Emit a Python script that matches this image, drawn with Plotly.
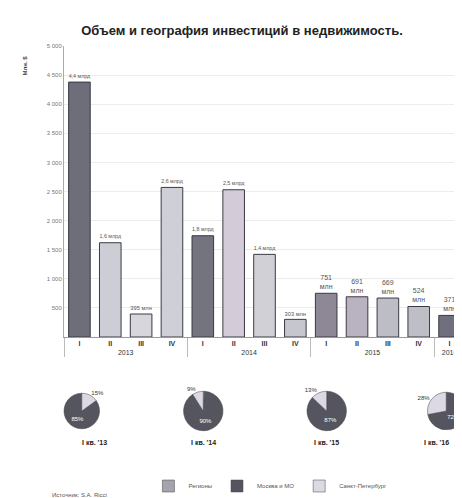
import plotly.graph_objects as go

years = ["2013"] * 4 + ["2014"] * 4 + ["2015"] * 4 + ["2016"]
quarters = ["I", "II", "III", "IV", "I", "II", "III", "IV", "I", "II", "III", "IV", "I"]
values = [4380, 1620, 395, 2570, 1740, 2530, 1420, 303, 751, 691, 669, 524, 371]
bar_labels = ["4,4 млрд", "1,6 млрд", "395 млн", "2,6 млрд", "1,8 млрд", "2,5 млрд",
              "1,4 млрд", "303 млн", "751<br>млн", "691<br>млн", "669<br>млн",
              "524<br>млн", "371<br>млн"]
bar_colors = ["#6e6e7a", "#cdcdd5", "#d6d6dc", "#cfcfd8", "#74747e", "#d3ccd8",
              "#d0d0d6", "#c6c6ce", "#8e8796", "#b9b3c1", "#bdbdc5", "#bebec7", "#6f6f7e"]

y_ticks = [500, 1000, 1500, 2000, 2500, 3000, 3500, 4000, 4500, 5000]
y_ticktext = ["500", "1 000", "1 500", "2 000", "2 500", "3 000", "3 500", "4 000", "4 500", "5 000"]

pie_names = ["I кв. '13", "I кв. '14", "I кв. '15", "I кв. '16"]
pie_labels = ["Регионы", "Москва и МО", "Санкт-Петербург"]
pie_values = [[0, 85, 15], [1, 90, 9], [0, 87, 13], [0, 72, 28]]
pie_colors = ["#a4a4ae", "#55555f", "#dcd8e4"]

W, H = 462, 498
ML, MR, MT, MB = 56, 0, 38, 5
PW, PH = W - ML - MR, H - MT - MB

def fx(px):
    return (px - ML) / PW

def fy(py):
    return (H - MB - py) / PH

fig = go.Figure()
fig.add_trace(go.Bar(
    x=[years, ["<b>" + q + "</b>" for q in quarters]], y=values, text=bar_labels,
    textposition="outside", cliponaxis=False,
    textfont=dict(size=7, color="#555555"),
    marker=dict(color=bar_colors, line=dict(color="#3a3a44", width=1)),
    showlegend=False,
))

pie_cx = [72, 197, 322, 444]
pie_cy = 403
r = 20
for i, (nm, vals) in enumerate(zip(pie_names, pie_values)):
    x0 = max(fx(pie_cx[i] - r), 0)
    x1 = min(fx(pie_cx[i] + r), 1)
    fig.add_trace(go.Pie(
        labels=pie_labels, values=vals, sort=False,
        direction="counterclockwise" if i == 0 else "clockwise",
        marker=dict(colors=pie_colors, line=dict(color="#444444", width=0.5)),
        texttemplate=["", "%{percent:.0%}", "%{percent:.0%}"],
        textposition=["inside", "inside", "outside"],
        textfont=dict(size=6, color=["#333333", "#ffffff", "#333333"]),
        domain=dict(x=[x0, x1], y=[fy(pie_cy + r), fy(pie_cy - r)]),
        showlegend=(i == 0), hoverinfo="label+percent",
    ))
    fig.add_annotation(x=fx(pie_cx[i] if i < 3 else 448), y=fy(440), xref="paper", yref="paper",
                       text="<b>" + nm + "</b>", showarrow=False,
                       font=dict(size=7, color="#222222"))

fig.add_annotation(x=fx(11), y=fy(46), xref="paper", yref="paper", text="<b>Млн. $</b>",
                   textangle=-90, showarrow=False, font=dict(size=6, color="#444444"))
fig.add_annotation(x=fx(42), y=fy(492), xref="paper", yref="paper", xanchor="left",
                   text="Источник: S.A. Ricci", showarrow=False,
                   font=dict(size=6, color="#555555"))

fig.update_layout(
    width=W, height=H,
    margin=dict(l=ML, r=MR, t=MT, b=MB),
    paper_bgcolor="white", plot_bgcolor="white",
    font=dict(family="Liberation Sans, Arial, sans-serif", color="#333333"),
    title=dict(text="<b>Объем и география инвестиций в недвижимость.</b>",
               x=234 / W, xanchor="center", y=1 - 22 / H, yanchor="middle",
               font=dict(size=13, color="#222222")),
    bargap=0.3,
    xaxis=dict(domain=[0, 1], anchor="y", showline=True, linecolor="#999999",
               tickfont=dict(size=7, color="#333333"), showdividers=True,
               dividercolor="#bbbbbb", dividerwidth=1, ticks=""),
    yaxis=dict(domain=[fy(329), 1], range=[0, 5000], tickvals=y_ticks, ticktext=y_ticktext,
               showgrid=True, gridcolor="#ececec", gridwidth=1, zeroline=False,
               showline=True, linecolor="#aaaaaa", tickfont=dict(size=6, color="#777777")),
    legend=dict(orientation="h", x=fx(265), xanchor="center", y=fy(478), yanchor="middle",
                font=dict(size=6, color="#555555"), itemwidth=30, traceorder="normal",
                entrywidth=0, tracegroupgap=0),
)

fig.write_html("out.html")
